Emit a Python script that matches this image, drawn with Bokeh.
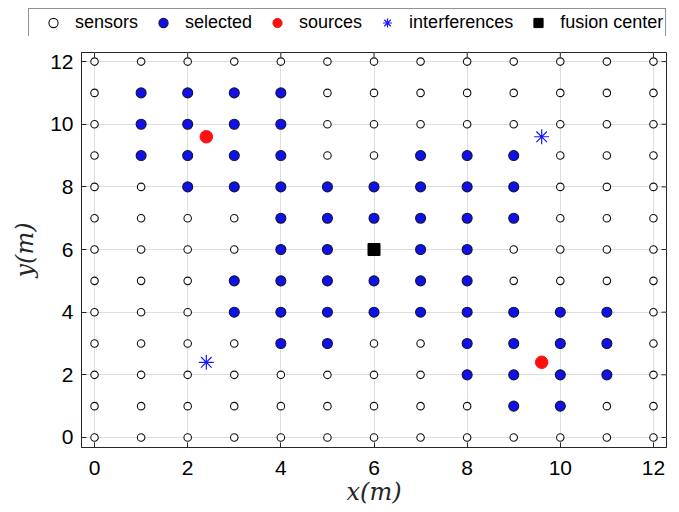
import math
from bokeh.plotting import figure
from bokeh.models import Range1d, Legend, LegendItem, FixedTicker
from bokeh.layouts import column
from bokeh.embed import file_html
from bokeh.resources import INLINE

# ---- data ----
grid_coords = [0, 1, 2, 3, 4, 5, 6, 7, 8, 9, 10, 11, 12]
tick_values = [0, 2, 4, 6, 8, 10, 12]

# selected sensors, listed row by row (y: list of x)
selected_rows = {
    11: [1, 2, 3, 4],
    10: [1, 2, 3, 4],
    9: [1, 2, 3, 4, 7, 8, 9],
    8: [2, 3, 4, 5, 6, 7, 8, 9],
    7: [4, 5, 6, 7, 8, 9],
    6: [4, 5, 7, 8],
    5: [3, 4, 5, 6, 7, 8],
    4: [3, 4, 5, 6, 7, 8, 9, 10, 11],
    3: [4, 5, 8, 9, 10, 11],
    2: [8, 9, 10, 11],
    1: [9, 10],
}
source_x = [2.4, 9.6]
source_y = [9.6, 2.4]
interf_x = [9.6, 2.4]
interf_y = [9.6, 2.4]
fusion_x = [6]
fusion_y = [6]
legend_labels = ["sensors", "selected", "sources", "interferences", "fusion center"]

sensor_x = [gx for gy in grid_coords for gx in grid_coords]
sensor_y = [gy for gy in grid_coords for gx in grid_coords]
sel_x = [sx for yy, row in selected_rows.items() for sx in row]
sel_y = [yy for yy, row in selected_rows.items() for sx in row]

X0, X1 = -0.28, 12.28
Y0, Y1 = -0.32, 12.29

# marker styles
styles = [
    dict(marker="circle", size=7.5, fill_color="white", line_color="#111111", line_width=1.1),
    dict(marker="circle", size=10, fill_color="#1010e8", line_color="#15153a", line_width=1.1),
    dict(marker="circle", size=12.5, fill_color="#ff1010", line_color="#ff1010", line_width=1),
    dict(marker="asterisk", size=15, line_color="#1a1aff", line_width=1.2),
    dict(marker="square", size=12, fill_color="black", line_color="black", line_width=1),
]

# ---- main figure ----
p = figure(width=679, height=476, output_backend="svg", toolbar_location=None,
           x_range=Range1d(X0, X1), y_range=Range1d(Y0, Y1),
           min_border_left=81, min_border_right=13, min_border_top=16,
           min_border_bottom=65)
p.frame_align = False
p.outline_line_color = "#262626"
p.outline_line_width = 1

AX = "#262626"
for ax in [p.xaxis[0], p.yaxis[0]]:
    ax.ticker = FixedTicker(ticks=tick_values)
    ax.major_tick_in = 5
    ax.major_tick_out = 0
    ax.minor_tick_line_color = None
    ax.axis_line_color = AX
    ax.major_tick_line_color = AX
    ax.major_label_text_font = "Liberation Sans"
    ax.major_label_text_font_size = "21px"
    ax.major_label_text_color = "#000000"
    ax.axis_label_text_font = "DejaVu Serif"
    ax.axis_label_text_font_style = "italic"
    ax.axis_label_text_font_size = "24px"
    ax.axis_label_text_color = "#262626"

p.xaxis[0].major_label_standoff = 13
p.xaxis[0].axis_label_standoff = 0
p.yaxis[0].major_label_standoff = 8
p.yaxis[0].axis_label_standoff = 8
p.xaxis[0].axis_label = "x(m)"
p.yaxis[0].axis_label = "y(m)"

# inward ticks on the top and right edges of the box
p.ray(x=tick_values, y=[Y1] * len(tick_values), length=5, length_units="screen",
      angle=-math.pi / 2, line_color=AX, line_width=1)
p.ray(x=[X1] * len(tick_values), y=tick_values, length=5, length_units="screen",
      angle=math.pi, line_color=AX, line_width=1)

p.xgrid.ticker = FixedTicker(ticks=tick_values)
p.ygrid.ticker = FixedTicker(ticks=tick_values)
p.xgrid.grid_line_color = "#dedede"
p.ygrid.grid_line_color = "#dedede"

p.scatter(sensor_x, sensor_y, **styles[0])
p.scatter(sel_x, sel_y, **styles[1])
p.scatter(source_x, source_y, **styles[2])
p.scatter(interf_x, interf_y, **styles[3])
p.scatter(fusion_x, fusion_y, **styles[4])

# ---- legend strip (separate small figure above the axes) ----
lf = figure(width=679, height=36, output_backend="svg", toolbar_location=None,
            x_range=Range1d(0, 1), y_range=Range1d(0, 1),
            x_axis_location=None, y_axis_location=None,
            min_border_left=28, min_border_right=0, min_border_top=8,
            min_border_bottom=0)
lf.frame_align = False
lf.grid.visible = False
lf.outline_line_color = None
lf.title.visible = False

items = []
for lab, st in zip(legend_labels, styles):
    # one off-screen point per entry, so the legend has a glyph to draw
    r = lf.scatter([-5], [-5], **st)
    items.append(LegendItem(label=lab, renderers=[r]))

legend = Legend(items=items, orientation="horizontal", location="top_left",
                margin=0, padding=2, glyph_width=44, glyph_height=23,
                label_height=23, label_standoff=0, spacing=3,
                label_text_font="Liberation Sans", label_text_font_size="18px",
                label_text_color="black",
                border_line_color="#262626", border_line_width=1,
                background_fill_alpha=1.0)
lf.add_layout(legend, "center")

layout = column(lf, p, spacing=0)
open("out.html", "w").write(file_html(layout, INLINE))
